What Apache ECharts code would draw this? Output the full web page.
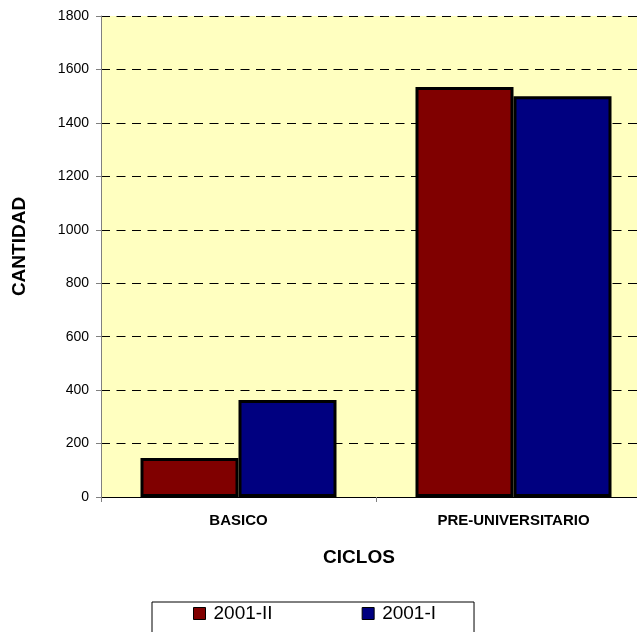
<!DOCTYPE html>
<html>
<head>
<meta charset="utf-8">
<script src="https://cdn.jsdelivr.net/npm/echarts@6/dist/echarts.min.js"></script>
<style>
html,body{margin:0;padding:0;background:#fff;overflow:hidden;width:637px;height:632px;}
#chart{width:651px;height:632px;}
</style>
</head>
<body>
<div id="chart"></div>
<script>
var categories = ['BASICO', 'PRE-UNIVERSITARIO'];
var seriesNames = ['2001-II', '2001-I'];
var values2001II = [146, 1534];
var values2001I = [363, 1500];
var yTicks = [0, 200, 400, 600, 800, 1000, 1200, 1400, 1600, 1800];

var chart = echarts.init(document.getElementById('chart'));
var font = 'Liberation Sans, Arial, sans-serif';
chart.setOption({
  animation: false,
  backgroundColor: '#ffffff',
  grid: {
    left: 101, top: 16, right: 0, height: 481,
    show: true, backgroundColor: '#FFFFC0', borderWidth: 0
  },
  legend: {
    data: seriesNames,
    left: 152, top: 602,
    orient: 'horizontal',
    itemWidth: 12, itemHeight: 12,
    itemGap: 89,
    padding: [2, 38, 20, 41],
    borderColor: '#000', borderWidth: 1,
    icon: 'rect',
    itemStyle: { borderColor: '#000', borderWidth: 1 },
    textStyle: { fontFamily: font, fontSize: 19, color: '#000', padding: [0, 0, 0, 3] }
  },
  xAxis: {
    type: 'category',
    data: categories,
    boundaryGap: true,
    name: 'CICLOS',
    nameLocation: 'middle',
    nameGap: 51,
    nameTextStyle: { fontFamily: font, fontSize: 19, fontWeight: 'bold', color: '#000', padding: [0, 34, 0, 0] },
    axisLine: { show: true, lineStyle: { color: '#000', width: 1 } },
    axisTick: { show: true, alignWithLabel: false, length: 5, lineStyle: { color: '#808080' } },
    axisLabel: { fontFamily: font, fontSize: 15, fontWeight: 'bold', color: '#000', margin: 16 },
    splitLine: { show: false }
  },
  yAxis: {
    type: 'value',
    min: yTicks[0], max: yTicks[yTicks.length - 1], interval: 200,
    name: 'CANTIDAD',
    nameLocation: 'middle',
    nameGap: 72,
    nameRotate: 90,
    nameTextStyle: { fontFamily: font, fontSize: 19, fontWeight: 'bold', color: '#000', padding: [0, 0, 0, 20] },
    axisLine: { show: true, lineStyle: { color: '#808080', width: 1 } },
    axisTick: { show: true, length: 5, lineStyle: { color: '#808080' } },
    axisLabel: { fontFamily: font, fontSize: 14, color: '#000', margin: 12, formatter: function (v) { return String(v); } },
    splitLine: { show: true, lineStyle: { color: '#000', type: [9, 6.5], width: 1 } }
  },
  series: [
    {
      name: seriesNames[0], type: 'bar', data: values2001II,
      barWidth: 98, barGap: '0%',
      itemStyle: { color: '#800000', borderColor: '#000', borderWidth: 3 }
    },
    {
      name: seriesNames[1], type: 'bar', data: values2001I,
      barWidth: 98, barGap: '0%',
      itemStyle: { color: '#000080', borderColor: '#000', borderWidth: 3 }
    }
  ]
});
</script>
</body>
</html>
